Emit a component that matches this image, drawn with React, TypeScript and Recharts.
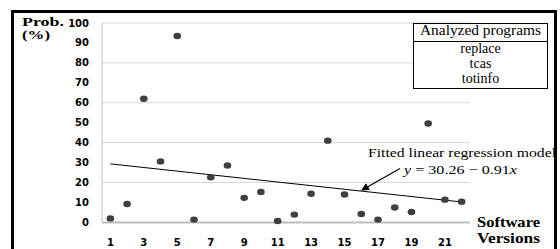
import React from 'react'
import { ComposedChart, Scatter, Line, XAxis, YAxis, CartesianGrid } from 'recharts'

// software versions on the x axis
const versions = [1, 2, 3, 4, 5, 6, 7, 8, 9, 10, 11, 12, 13, 14, 15, 16, 17, 18, 19, 20, 21, 22]
// failure probability (%) per version
const probabilities = [2, 9.2, 62, 30.6, 93.5, 1.4, 22.6, 28.5, 12.3, 15.3, 0.7, 3.9, 14.4, 41, 14, 4.2, 1.4, 7.5, 5.2, 49.6, 11.4, 10.4]
// fitted line endpoints (y = 30.26 - 0.91x at versions 1 and 22)
const fitStart = 29.35
const fitEnd = 10.24
const yTicks = [0, 10, 20, 30, 40, 50, 60, 70, 80, 90, 100]
const programs = ['replace', 'tcas', 'totinfo']

const data = versions.map((v, i) => ({
  version: v,
  prob: probabilities[i],
  fit: i === 0 ? fitStart : i === versions.length - 1 ? fitEnd : null,
}))

const serif = '"Liberation Serif", "Times New Roman", serif'
const tickStyle = { fontSize: 10, fontWeight: 'bold', fill: '#000', fontFamily: '"DejaVu Sans", Verdana, sans-serif' }

const Dot = (props: any) => <ellipse cx={props.cx} cy={props.cy} rx={3.8} ry={3.2} fill="#3f3f3f" />

export default function App() {
  return (
    <div style={{ position: 'fixed', left: 0, top: 0, width: 560, height: 249, background: '#fff', overflow: 'hidden' }}>
      <div
        style={{
          position: 'absolute',
          left: 11,
          top: 10,
          width: 546,
          height: 260,
          border: '3px solid #000',
          boxSizing: 'border-box',
        }}
      />
      <div style={{ position: 'absolute', left: 0, top: 0 }}>
        <ComposedChart width={560} height={249} data={data} margin={{ top: 23, right: 90, left: 62, bottom: 0 }}>
          <CartesianGrid vertical={false} stroke="#d6d6d6" />
          <XAxis
            dataKey="version"
            type="category"
            scale="band"
            interval={1}
            height={26.6}
            tickSize={0}
            tickMargin={16}
            tick={tickStyle}
            axisLine={{ stroke: '#bdbdbd', strokeWidth: 2 }}
          />
          <YAxis
            type="number"
            domain={[0, 100]}
            ticks={yTicks}
            width={40}
            tickSize={0}
            tickMargin={13}
            tick={tickStyle}
            axisLine={{ stroke: '#bdbdbd' }}
          />
          <Line dataKey="fit" stroke="#000" strokeWidth={1} dot={false} connectNulls isAnimationActive={false} />
          <Scatter dataKey="prob" fill="#3f3f3f" shape={<Dot />} isAnimationActive={false} />
        </ComposedChart>
      </div>
      <svg width={560} height={249} style={{ position: 'absolute', left: 0, top: 0, pointerEvents: 'none' }}>
        <defs>
          <marker id="arrow" markerWidth="8" markerHeight="8" refX="7" refY="4" orient="auto" markerUnits="userSpaceOnUse">
            <path d="M0,0 L8,4 L0,8 z" fill="#000" />
          </marker>
        </defs>
        <text x={22} y={25.5} fontFamily={serif} fontWeight="bold" fontSize={12} textLength={42} lengthAdjust="spacingAndGlyphs">
          Prob.
        </text>
        <text x={22} y={38.5} fontFamily={serif} fontWeight="bold" fontSize={12} textLength={28} lengthAdjust="spacingAndGlyphs">
          (%)
        </text>
        <text x={477} y={226.5} fontFamily={serif} fontWeight="bold" fontSize={14.5} textLength={63} lengthAdjust="spacingAndGlyphs">
          Software
        </text>
        <text x={477} y={243} fontFamily={serif} fontWeight="bold" fontSize={14.5} textLength={63} lengthAdjust="spacingAndGlyphs">
          Versions
        </text>

        <rect x={413.5} y={23.5} width={134} height={65} fill="#fff" stroke="#000" strokeWidth={1} />
        <line x1={413.5} y1={41.5} x2={547.5} y2={41.5} stroke="#000" strokeWidth={1} />
        <text x={480.5} y={35} textAnchor="middle" fontFamily={serif} fontSize={14} textLength={121} lengthAdjust="spacingAndGlyphs">
          Analyzed programs
        </text>
        {programs.map((p, i) => (
          <text key={p} x={480.5} y={53 + i * 15} textAnchor="middle" fontFamily={serif} fontSize={14}>
            {p}
          </text>
        ))}

        <text x={368} y={157} fontFamily={serif} fontSize={13} textLength={188} lengthAdjust="spacingAndGlyphs">
          Fitted linear regression model
        </text>
        <text x={404} y={174} fontFamily={serif} fontSize={13} textLength={113} lengthAdjust="spacingAndGlyphs">
          <tspan fontStyle="italic">y</tspan> = 30.26 − 0.91<tspan fontStyle="italic">x</tspan>
        </text>
        <line x1={400} y1={168.5} x2={362} y2={190} stroke="#000" strokeWidth={1.2} markerEnd="url(#arrow)" />
      </svg>
    </div>
  )
}
